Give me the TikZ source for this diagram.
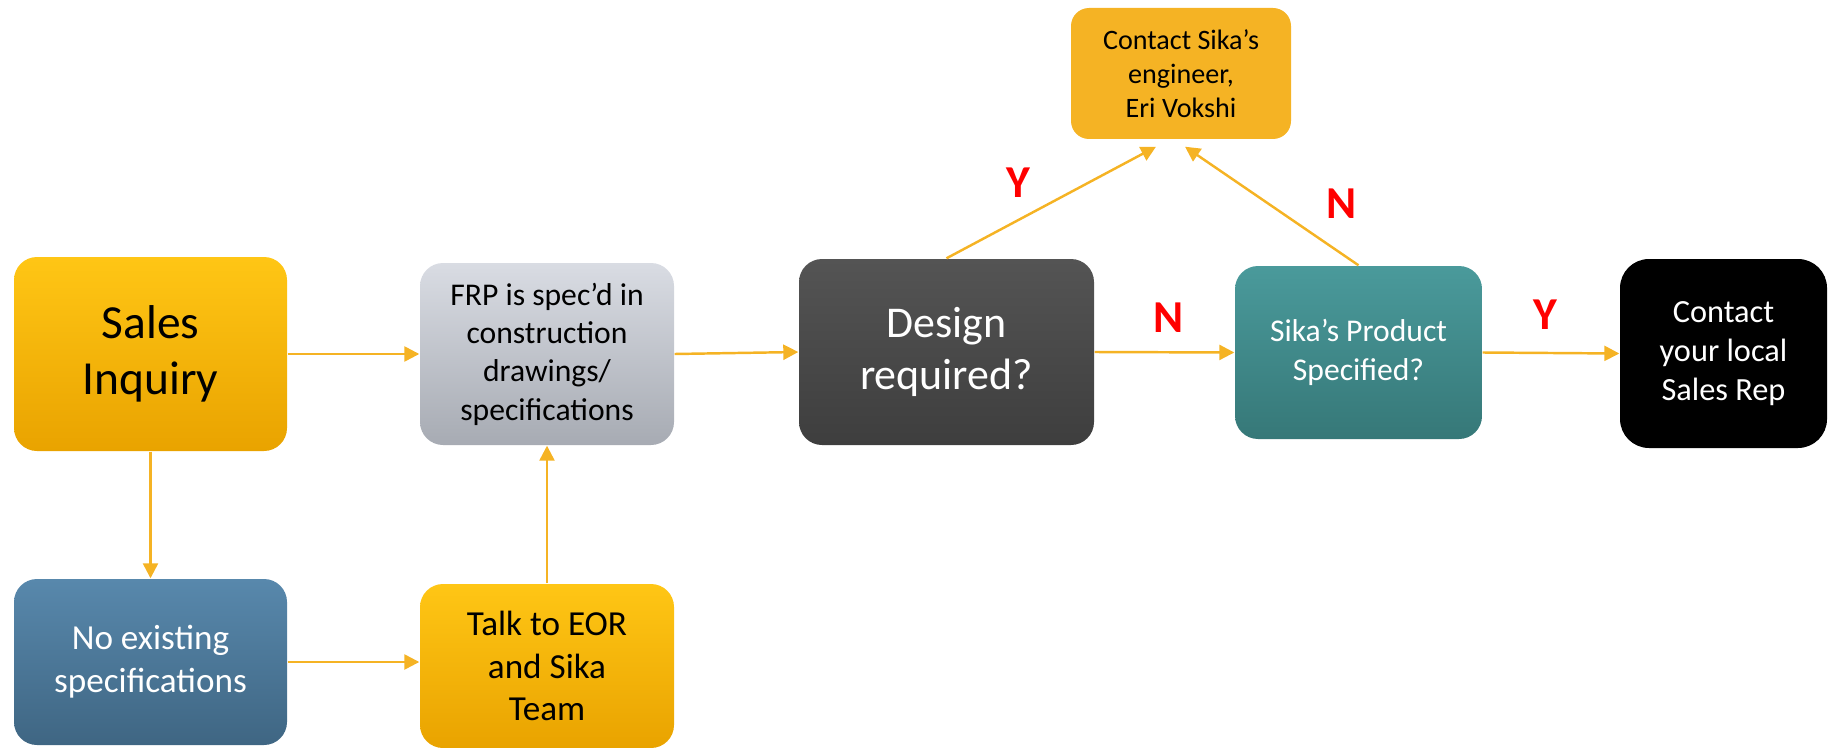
\documentclass[tikz,border=0pt]{standalone}
\usepackage{fontspec}
\setmainfont{Carlito}
\usepackage{tikz}
\usetikzlibrary{arrows.meta}

\definecolor{gold}{HTML}{F5B324}
\definecolor{goldtop}{HTML}{FFC615}
\definecolor{goldbot}{HTML}{E9A300}
\definecolor{yesno}{HTML}{FF0000}

\tikzset{
  box/.style={rectangle, rounded corners=0.23cm, align=center, inner sep=0pt},
  goldbox/.style={box, top color=goldtop, bottom color=goldbot, text=black},
  greybox/.style={box, top color={rgb,255:red,217;green,220;blue,227}, bottom color={rgb,255:red,167;green,171;blue,179}, text=black},
  darkbox/.style={box, top color={rgb,255:red,84;green,84;blue,84}, bottom color={rgb,255:red,62;green,62;blue,62}, text=white},
  tealbox/.style={box, top color={rgb,255:red,74;green,154;blue,155}, bottom color={rgb,255:red,54;green,120;blue,120}, text=white},
  bluebox/.style={box, top color={rgb,255:red,88;green,136;blue,172}, bottom color={rgb,255:red,63;green,102;blue,131}, text=white},
  flow/.style={draw=gold, line width=0.7pt, -{Triangle[length=0.15cm, width=0.15cm]}},
  yn/.style={text=yesno, font=\bfseries\fontsize{13}{15}\selectfont}
}

\begin{document}
\begin{tikzpicture}
  \useasboundingbox (0,0) rectangle (18.31,-7.48);

  %% top row
  \node[goldbox, minimum width=2.73cm, minimum height=1.94cm,
        font=\fontsize{13.5}{16}\selectfont] (sales) at (1.505,-3.54) {Sales\\Inquiry};
  \node[greybox, minimum width=2.54cm, minimum height=1.82cm,
        font=\fontsize{9}{10.9}\selectfont] (frp) at (5.47,-3.54) {FRP is spec'd in\\construction\\drawings/\\specifications};
  \node[darkbox, minimum width=2.95cm, minimum height=1.86cm,
        font=\fontsize{12.5}{14.9}\selectfont] (design) at (9.465,-3.52) {Design\\required?};
  \node[tealbox, minimum width=2.47cm, minimum height=1.73cm,
        font=\fontsize{9}{11}\selectfont] (sika) at (13.585,-3.525) {Sika's Product\\Specified?};
  \node[box, fill=black, text=white, rounded corners=0.29cm, minimum width=2.07cm, minimum height=1.89cm,
        font=\fontsize{9.2}{11.1}\selectfont] (rep) at (17.235,-3.535) {Contact\\your local\\Sales Rep};

  %% engineer
  \node[box, fill=gold, rounded corners=0.18cm, minimum width=2.2cm, minimum height=1.31cm,
        font=\fontsize{8}{9.6}\selectfont] (eng) at (11.81,-0.735) {Contact Sika's\\engineer,\\Eri Vokshi};

  %% bottom row
  \node[bluebox, minimum width=2.73cm, minimum height=1.66cm,
        font=\fontsize{10}{12.3}\selectfont] (noexist) at (1.505,-6.62) {No existing\\specifications};
  \node[goldbox, minimum width=2.54cm, minimum height=1.64cm,
        font=\fontsize{10}{12}\selectfont] (talk) at (5.47,-6.66) {Talk to EOR\\and Sika\\Team};

  %% free ends under the engineer box
  \coordinate (engy) at ([xshift=-0.25cm, yshift=-0.07cm]eng.south);
  \coordinate (engn) at ([xshift=0.04cm, yshift=-0.07cm]eng.south);

  %% arrows
  \draw[flow] (sales.east) -- (frp.west);
  \draw[flow] (frp.east) -- (design.west);
  \draw[flow] (design.east) -- (sika.west);
  \draw[flow] (sika.east) -- (rep.west);
  \draw[flow] (sales.south) -- (noexist.north);
  \draw[flow] (noexist.east) -- (noexist.east -| talk.west);
  \draw[flow] (talk.north) -- (frp.south);
  \draw[flow] (design.north) -- (engy);
  \draw[flow] (sika.north) -- (engn);

  %% Y / N
  \node[yn] (ydesign) at (10.18,-1.83) {Y};
  \node[yn] (nsika) at (13.42,-2.04) {N};
  \node[yn] (ndesign) at (11.69,-3.18) {N};
  \node[yn] (ysika) at (15.45,-3.15) {Y};

\end{tikzpicture}
\end{document}
